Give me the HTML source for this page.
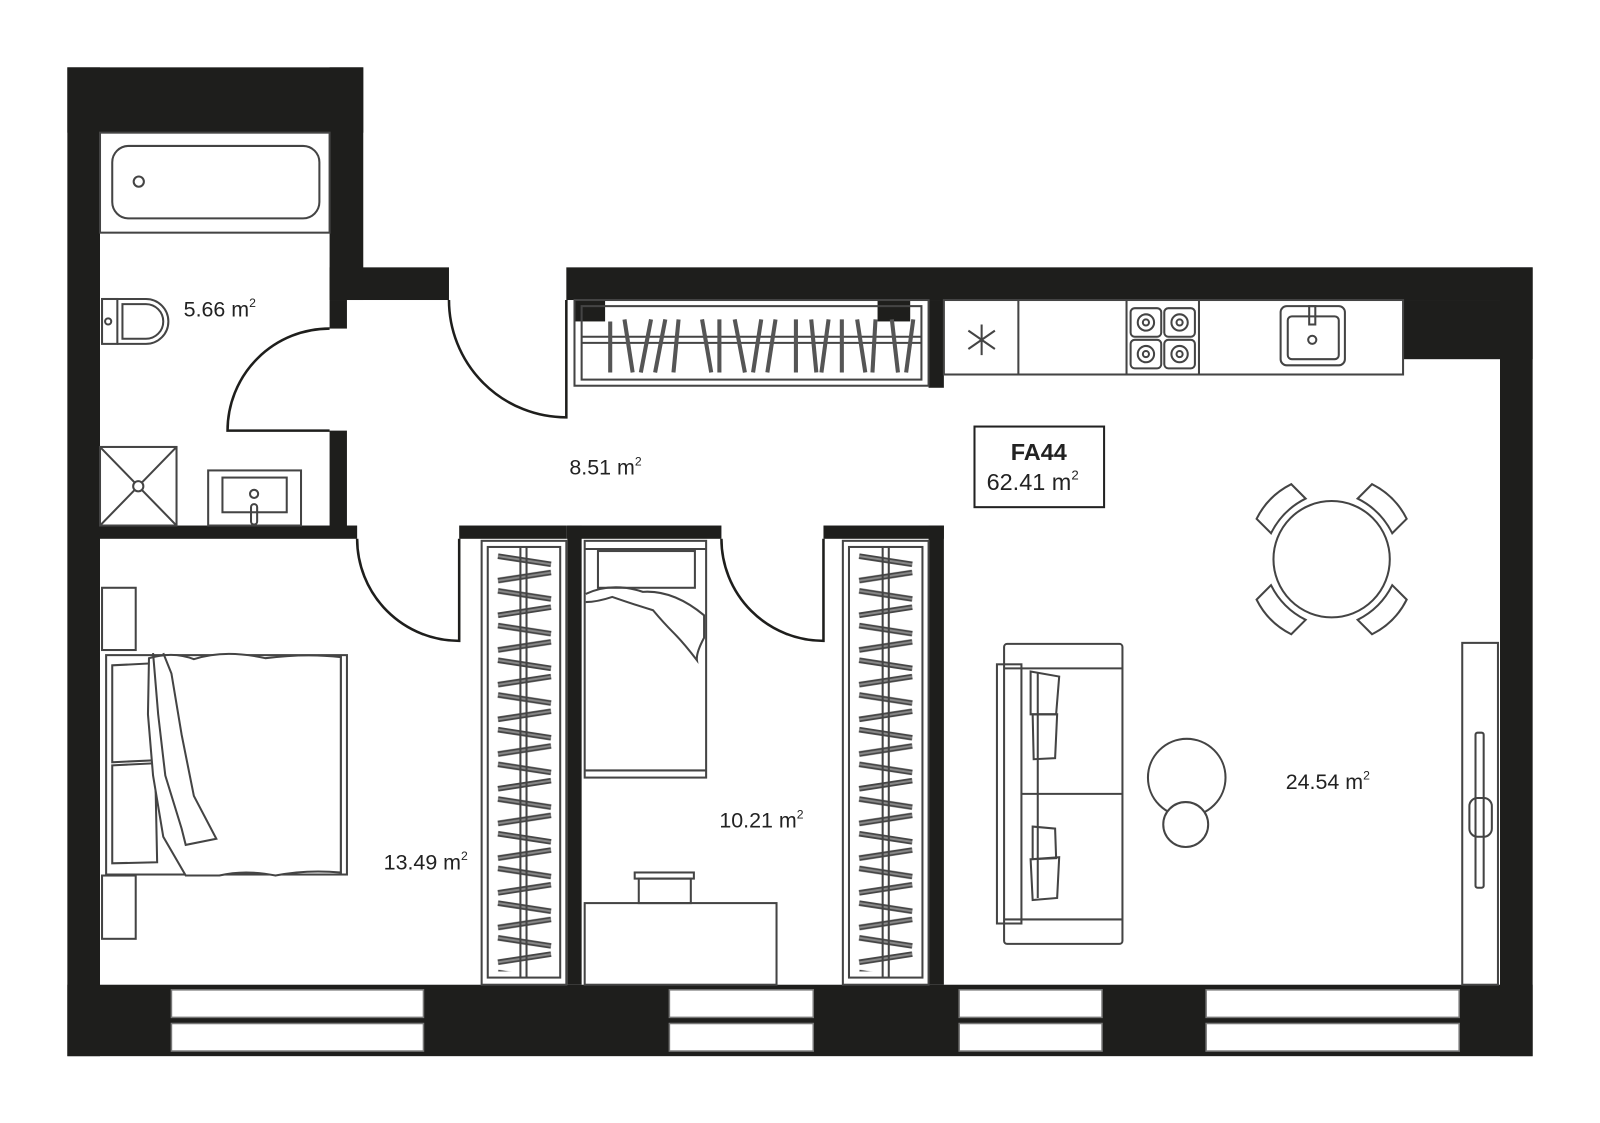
<!DOCTYPE html>
<html><head><meta charset="utf-8"><style>
html,body{margin:0;padding:0;background:#fff;}
svg{display:block;}
text{font-family:"Liberation Sans",sans-serif;fill:#222;}
</style></head><body>
<svg width="1600" height="1123" viewBox="0 0 1568 1100.5" preserveAspectRatio="none" xmlns="http://www.w3.org/2000/svg">
<defs>
<pattern id="hv1" x="486" y="540" width="56" height="34" patternUnits="userSpaceOnUse">
<line x1="2" y1="5" x2="54" y2="13" stroke="#444" stroke-width="5.5"/>
<line x1="2" y1="5" x2="54" y2="13" stroke="#888" stroke-width="2"/>
<line x1="2" y1="29" x2="54" y2="21" stroke="#444" stroke-width="5.5"/>
<line x1="2" y1="29" x2="54" y2="21" stroke="#888" stroke-width="2"/>
</pattern>
<pattern id="hv2" x="840" y="540" width="56" height="34" patternUnits="userSpaceOnUse">
<line x1="2" y1="5" x2="54" y2="13" stroke="#444" stroke-width="5.5"/>
<line x1="2" y1="5" x2="54" y2="13" stroke="#888" stroke-width="2"/>
<line x1="2" y1="29" x2="54" y2="21" stroke="#444" stroke-width="5.5"/>
<line x1="2" y1="29" x2="54" y2="21" stroke="#888" stroke-width="2"/>
</pattern>
</defs>
<g fill="#1e1e1c">
<rect x="66" y="66" width="32" height="969"/>
<rect x="66" y="66" width="290" height="64"/>
<rect x="323" y="66" width="33" height="228"/>
<rect x="323" y="262" width="117" height="32"/>
<rect x="323" y="294" width="17" height="28"/>
<rect x="323" y="422" width="17" height="100"/>
<rect x="98" y="515" width="252" height="13"/>
<rect x="555" y="262" width="947" height="32"/>
<rect x="563" y="294" width="30" height="21"/>
<rect x="860" y="294" width="32" height="21"/>
<rect x="910" y="294" width="15" height="86"/>
<rect x="1375" y="294" width="127" height="58"/>
<rect x="1470" y="262" width="32" height="773"/>
<rect x="66" y="965" width="1436" height="70"/>
<rect x="450" y="515" width="105" height="13"/>
<rect x="555" y="515" width="152" height="13"/>
<rect x="556" y="515" width="14" height="450"/>
<rect x="807" y="515" width="118" height="13"/>
<rect x="910" y="515" width="15" height="450"/>
</g>
<g fill="#fff" stroke="#777" stroke-width="1.5">
<rect x="168" y="970" width="247" height="27"/><rect x="168" y="1003" width="247" height="27"/>
<rect x="656" y="970" width="141" height="27"/><rect x="656" y="1003" width="141" height="27"/>
<rect x="940" y="970" width="140" height="27"/><rect x="940" y="1003" width="140" height="27"/>
<rect x="1182" y="970" width="248" height="27"/><rect x="1182" y="1003" width="248" height="27"/>
</g>
<g fill="none" stroke="#1e1e1c" stroke-width="2.5">
<path d="M323 322 A100 100 0 0 0 223 422 L323 422"/>
<path d="M440 294 A115 115 0 0 0 555 409 L555 294"/>
<path d="M350 528 A100 100 0 0 0 450 628 L450 528"/>
<path d="M707 528 A100 100 0 0 0 807 628 L807 528"/>
</g>
<g fill="none" stroke="#444" stroke-width="2">
<rect x="98" y="130" width="225" height="98"/>
<rect x="110" y="143" width="203" height="71" rx="16"/>
<circle cx="136" cy="178" r="5"/>
<rect x="100" y="293" width="15" height="44"/>
<circle cx="106" cy="315" r="3"/>
<path d="M115 293 H143 A22 22 0 0 1 143 337 H115"/>
<path d="M120 298 H143 A17 17 0 0 1 143 332 H120 Z"/>
<rect x="98" y="438" width="75" height="77"/>
<line x1="98" y1="438" x2="173" y2="515"/><line x1="173" y1="438" x2="98" y2="515"/>
<circle cx="135.5" cy="476.5" r="5" fill="#fff"/>
<rect x="204" y="461" width="91" height="54"/>
<rect x="218" y="468" width="63" height="34"/>
<circle cx="249" cy="484" r="4"/>
<rect x="246" y="494" width="6" height="20" rx="3"/>
<rect x="563" y="294" width="347" height="84"/>
<rect x="570" y="300" width="333" height="72"/>
<line x1="570" y1="330" x2="903" y2="330"/><line x1="570" y1="336" x2="903" y2="336"/>
</g>
<g stroke="#555" stroke-width="4" fill="none">
<line x1="598" y1="315" x2="598" y2="365"/>
<line x1="612" y1="313" x2="620" y2="365"/>
<line x1="638" y1="313" x2="628" y2="365"/>
<line x1="652" y1="313" x2="642" y2="365"/>
<line x1="665" y1="313" x2="660" y2="365"/>
<line x1="688" y1="313" x2="697" y2="365"/>
<line x1="705" y1="313" x2="705" y2="365"/>
<line x1="720" y1="313" x2="730" y2="365"/>
<line x1="746" y1="313" x2="738" y2="365"/>
<line x1="760" y1="313" x2="752" y2="365"/>
<line x1="780" y1="313" x2="780" y2="365"/>
<line x1="795" y1="313" x2="800" y2="365"/>
<line x1="812" y1="313" x2="805" y2="365"/>
<line x1="825" y1="313" x2="825" y2="365"/>
<line x1="840" y1="313" x2="848" y2="365"/>
<line x1="858" y1="313" x2="855" y2="365"/>
<line x1="874" y1="313" x2="880" y2="365"/>
<line x1="895" y1="313" x2="888" y2="365"/>
</g>
<g fill="none" stroke="#444" stroke-width="2">
<rect x="925" y="294" width="450" height="73"/>
<line x1="998" y1="294" x2="998" y2="367"/>
<line x1="1104" y1="294" x2="1104" y2="367"/>
<line x1="1175" y1="294" x2="1175" y2="367"/>
<path d="M962 318 V348 M949 324 L975 342 M975 324 L949 342"/>
<rect x="1108" y="302" width="30" height="28" rx="4"/><rect x="1141" y="302" width="30" height="28" rx="4"/>
<rect x="1108" y="333" width="30" height="28" rx="4"/><rect x="1141" y="333" width="30" height="28" rx="4"/>
<circle cx="1123" cy="316" r="8"/><circle cx="1156" cy="316" r="8"/><circle cx="1123" cy="347" r="8"/><circle cx="1156" cy="347" r="8"/>
<circle cx="1123" cy="316" r="3"/><circle cx="1156" cy="316" r="3"/><circle cx="1123" cy="347" r="3"/><circle cx="1156" cy="347" r="3"/>
<rect x="1255" y="300" width="63" height="58" rx="6"/>
<rect x="1262" y="310" width="50" height="42" rx="4"/>
<rect x="1283" y="300" width="6" height="18"/>
<circle cx="1286" cy="333" r="4"/>
<rect x="955" y="418" width="127" height="79" stroke="#222"/>
<circle cx="1305" cy="548" r="57"/>
<g transform="translate(1305 548)">
<g transform="rotate(-45)"><path d="M-24 -60 Q0 -68 24 -60 L24 -80 Q0 -88 -24 -80 Z"/></g>
<g transform="rotate(45)"><path d="M-24 -60 Q0 -68 24 -60 L24 -80 Q0 -88 -24 -80 Z"/></g>
<g transform="rotate(135)"><path d="M-24 -60 Q0 -68 24 -60 L24 -80 Q0 -88 -24 -80 Z"/></g>
<g transform="rotate(-135)"><path d="M-24 -60 Q0 -68 24 -60 L24 -80 Q0 -88 -24 -80 Z"/></g>
</g>
<rect x="984" y="631" width="116" height="294" rx="3"/>
<line x1="984" y1="655" x2="1100" y2="655"/><line x1="984" y1="901" x2="1100" y2="901"/>
<rect x="977" y="651" width="24" height="254"/>
<line x1="1001" y1="778" x2="1100" y2="778"/>
<path d="M1010 658 L1038 663 L1035 700 L1010 700 Z"/>
<path d="M1012 700 L1036 700 L1034 743 L1013 744 Z"/>
<path d="M1012 810 L1034 812 L1035 841 L1012 842 Z"/>
<path d="M1010 842 L1038 840 L1036 880 L1012 882 Z"/>
<line x1="1017" y1="660" x2="1017" y2="880"/>
<circle cx="1163" cy="762" r="38"/>
<circle cx="1162" cy="808" r="22" fill="#fff"/>
<rect x="1433" y="630" width="35" height="335"/>
<rect x="1446" y="718" width="8" height="152" rx="2"/>
<rect x="1440" y="782" width="22" height="38" rx="8"/>
<rect x="100" y="576" width="33" height="61"/>
<rect x="100" y="858" width="33" height="62"/>
<rect x="104" y="642" width="236" height="215"/>
<line x1="334" y1="642" x2="334" y2="857"/>
<path d="M110 652 L150 650 L152 745 L110 747 Z"/>
<path d="M110 750 L152 748 L154 845 L110 846 Z"/>
<path d="M146 645 Q170 638 190 646 Q220 636 260 645 Q300 640 334 644 L334 855 Q300 852 270 858 Q240 852 215 858 L182 858 L160 820 L150 760 L145 700 Z" fill="#fff"/>
<path d="M150 640 L155 700 L162 760 L178 812 L182 828 L212 822 L190 780 L178 720 L168 660 L160 640" />
<rect x="573" y="530" width="119" height="232"/>
<line x1="573" y1="538" x2="692" y2="538"/><line x1="573" y1="755" x2="692" y2="755"/>
<rect x="586" y="540" width="95" height="36"/>
<path d="M574 582 Q600 570 630 580 Q660 578 690 603 L690 625 Q682 640 683 647 Q670 630 660 620 Q650 610 640 598 Q620 592 600 585 Q585 590 574 590"/>
<rect x="573" y="885" width="188" height="80"/>
<rect x="622" y="855" width="58" height="6"/>
<rect x="626" y="861" width="51" height="24"/>
<rect x="472" y="530" width="83" height="435"/>
<rect x="478" y="536" width="71" height="422"/>
<rect x="826" y="530" width="84" height="435"/>
<rect x="832" y="536" width="72" height="422"/>
</g>
<rect x="486" y="540" width="56" height="412" fill="url(#hv1)"/>
<rect x="840" y="540" width="56" height="412" fill="url(#hv2)"/>
<g fill="none" stroke="#444" stroke-width="2">
<line x1="510" y1="536" x2="510" y2="958"/><line x1="516" y1="536" x2="516" y2="958"/>
<line x1="865" y1="536" x2="865" y2="958"/><line x1="871" y1="536" x2="871" y2="958"/>
</g>
<text x="180" y="310" font-size="21">5.66 m<tspan font-size="12" dy="-9">2</tspan></text>
<text x="558" y="465" font-size="21">8.51 m<tspan font-size="12" dy="-9">2</tspan></text>
<text x="376" y="852" font-size="21">13.49 m<tspan font-size="12" dy="-9">2</tspan></text>
<text x="705" y="811" font-size="21">10.21 m<tspan font-size="12" dy="-9">2</tspan></text>
<text x="1260" y="773" font-size="21">24.54 m<tspan font-size="12" dy="-9">2</tspan></text>
<text x="1018" y="451" font-size="23" font-weight="bold" text-anchor="middle">FA44</text>
<text x="1012" y="480" font-size="23" text-anchor="middle">62.41 m<tspan font-size="13" dy="-10">2</tspan></text>
</svg>
</body></html>
